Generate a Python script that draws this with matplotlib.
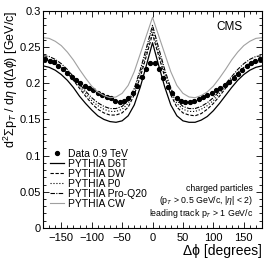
import numpy as np
import matplotlib
matplotlib.use("Agg")
from matplotlib import pyplot as plt
from matplotlib.ticker import MultipleLocator, FuncFormatter

plt.rcParams["font.family"] = ["Liberation Sans", "DejaVu Sans"]
plt.rcParams["mathtext.fontset"] = "custom"
plt.rcParams["mathtext.rm"] = "Liberation Sans"
plt.rcParams["mathtext.it"] = "Liberation Sans:italic"

# data points (50 bins in delta phi)
data_dphi = [-176.4, -169.2, -162.0, -154.8, -147.6, -140.4, -133.2, -126.0, -118.8, -111.6,
             -104.4, -97.2, -90.0, -82.8, -75.6, -68.4, -61.2, -54.0, -46.8, -39.6,
             -32.4, -25.2, -18.0, -10.8, -3.6, 3.6, 10.8, 18.0, 25.2, 32.4,
             39.6, 46.8, 54.0, 61.2, 68.4, 75.6, 82.8, 90.0, 97.2, 104.4,
             111.6, 118.8, 126.0, 133.2, 140.4, 147.6, 154.8, 162.0, 169.2, 176.4]
data_val = [0.233, 0.231, 0.229, 0.224, 0.219, 0.214, 0.209, 0.204, 0.200, 0.196,
            0.193, 0.190, 0.187, 0.184, 0.181, 0.179, 0.176, 0.174, 0.175, 0.179,
            0.186, 0.196, 0.208, 0.220, 0.228, 0.228, 0.220, 0.207, 0.195, 0.186,
            0.179, 0.175, 0.174, 0.174, 0.176, 0.178, 0.181, 0.184, 0.187, 0.190,
            0.194, 0.198, 0.202, 0.207, 0.213, 0.218, 0.224, 0.228, 0.231, 0.233]

# PYTHIA tunes
mc_dphi = [-180, -170, -160, -150, -140, -130, -120, -110, -100, -90, -80, -70, -60, -50,
           -40, -30, -20, -10, 0, 10, 20, 30, 40, 50, 60, 70, 80, 90, 100, 110, 120,
           130, 140, 150, 160, 170, 180]
d6t = [0.224, 0.222, 0.218, 0.212, 0.204, 0.194, 0.182, 0.172, 0.163, 0.155, 0.150, 0.147,
       0.146, 0.148, 0.155, 0.170, 0.195, 0.225, 0.256, 0.225, 0.195, 0.170, 0.155, 0.148,
       0.146, 0.146, 0.149, 0.154, 0.162, 0.172, 0.183, 0.194, 0.204, 0.212, 0.218, 0.222, 0.224]
dw = [0.230, 0.229, 0.226, 0.221, 0.214, 0.204, 0.193, 0.182, 0.172, 0.164, 0.159, 0.156,
      0.156, 0.159, 0.167, 0.184, 0.209, 0.238, 0.268, 0.238, 0.209, 0.184, 0.167, 0.159,
      0.156, 0.155, 0.158, 0.164, 0.172, 0.182, 0.193, 0.204, 0.214, 0.221, 0.226, 0.229, 0.230]
p0 = [0.234, 0.232, 0.228, 0.222, 0.215, 0.206, 0.196, 0.186, 0.176, 0.169, 0.164, 0.161,
      0.161, 0.164, 0.172, 0.189, 0.214, 0.243, 0.274, 0.243, 0.214, 0.189, 0.172, 0.164,
      0.161, 0.161, 0.164, 0.169, 0.176, 0.186, 0.196, 0.206, 0.215, 0.222, 0.228, 0.232, 0.234]
proq20 = [0.238, 0.237, 0.233, 0.227, 0.219, 0.209, 0.199, 0.189, 0.180, 0.173, 0.168, 0.165,
          0.165, 0.168, 0.176, 0.193, 0.219, 0.249, 0.280, 0.249, 0.219, 0.193, 0.176, 0.168,
          0.165, 0.165, 0.168, 0.173, 0.180, 0.189, 0.199, 0.209, 0.219, 0.227, 0.233, 0.237, 0.238]
cw = [0.263, 0.262, 0.258, 0.252, 0.243, 0.232, 0.219, 0.207, 0.196, 0.188, 0.183, 0.180,
      0.181, 0.186, 0.197, 0.216, 0.241, 0.266, 0.291, 0.266, 0.241, 0.216, 0.197, 0.186,
      0.181, 0.180, 0.183, 0.188, 0.196, 0.207, 0.219, 0.232, 0.243, 0.252, 0.258, 0.262, 0.263]

fig = plt.figure(figsize=(2.69, 2.59), dpi=100)
ax = fig.add_axes([0.160, 0.120, 0.814, 0.838])

ax.plot(data_dphi, data_val, "o", color="black", markersize=2.8, label="Data 0.9 TeV")
ax.plot(mc_dphi, d6t, "-", color="black", lw=0.9, label="PYTHIA D6T")
ax.plot(mc_dphi, dw, "--", color="black", lw=0.8, dashes=(3, 1.5), label="PYTHIA DW")
ax.plot(mc_dphi, p0, ":", color="black", lw=0.8, label="PYTHIA P0")
ax.plot(mc_dphi, proq20, "-.", color="black", lw=0.8, dashes=(4, 1.2, 1, 1.2), label="PYTHIA Pro-Q20")
ax.plot(mc_dphi, cw, "-", color="#a0a0a0", lw=0.8, label="PYTHIA CW")

ax.set_xlim(-180, 180)
ax.set_ylim(0, 0.3)
ax.xaxis.set_major_locator(MultipleLocator(50))
ax.xaxis.set_minor_locator(MultipleLocator(10))
ax.yaxis.set_major_locator(MultipleLocator(0.05))
ax.yaxis.set_minor_locator(MultipleLocator(0.01))
ax.yaxis.set_major_formatter(FuncFormatter(lambda v, p: "%g" % round(v, 3)))
ax.tick_params(which="both", direction="in", top=True, right=True, labelsize=8, width=0.6)
ax.tick_params(which="major", length=4)
ax.tick_params(which="minor", length=2)
ax.tick_params(axis="x", pad=3.5)
ax.tick_params(axis="y", pad=1.5)
for s in ax.spines.values():
    s.set_linewidth(0.8)

ax.set_xlabel("Δϕ [degrees]", fontsize=10, loc="right", labelpad=1)
ax.set_ylabel(r"d$^{2}\Sigma$p$_{T}$ / d$\eta$ d($\Delta\phi$) [GeV/c]", fontsize=9,
              loc="top")
ax.yaxis.set_label_coords(-0.105, 1.0)

ax.text(0.909, 0.925, "CMS", transform=ax.transAxes, ha="right", va="center", fontsize=8.5)
ax.text(0.96, 0.182, "charged particles", transform=ax.transAxes, ha="right",
        va="center", fontsize=6.3)
ax.text(0.96, 0.125, r"(p$_T$ > 0.5 GeV/c, |$\eta$| < 2)", transform=ax.transAxes,
        ha="right", va="center", fontsize=6.3)
ax.text(0.96, 0.068, r"leading track p$_T$ > 1 GeV/c", transform=ax.transAxes,
        ha="right", va="center", fontsize=6.3)

ax.legend(loc="upper left", bbox_to_anchor=(0.03, 0.364), frameon=False, fontsize=7.5,
          handlelength=1.4, handletextpad=0.35, labelspacing=0.0, borderpad=0,
          borderaxespad=0, numpoints=1)

fig.savefig("out.png", dpi=100)
